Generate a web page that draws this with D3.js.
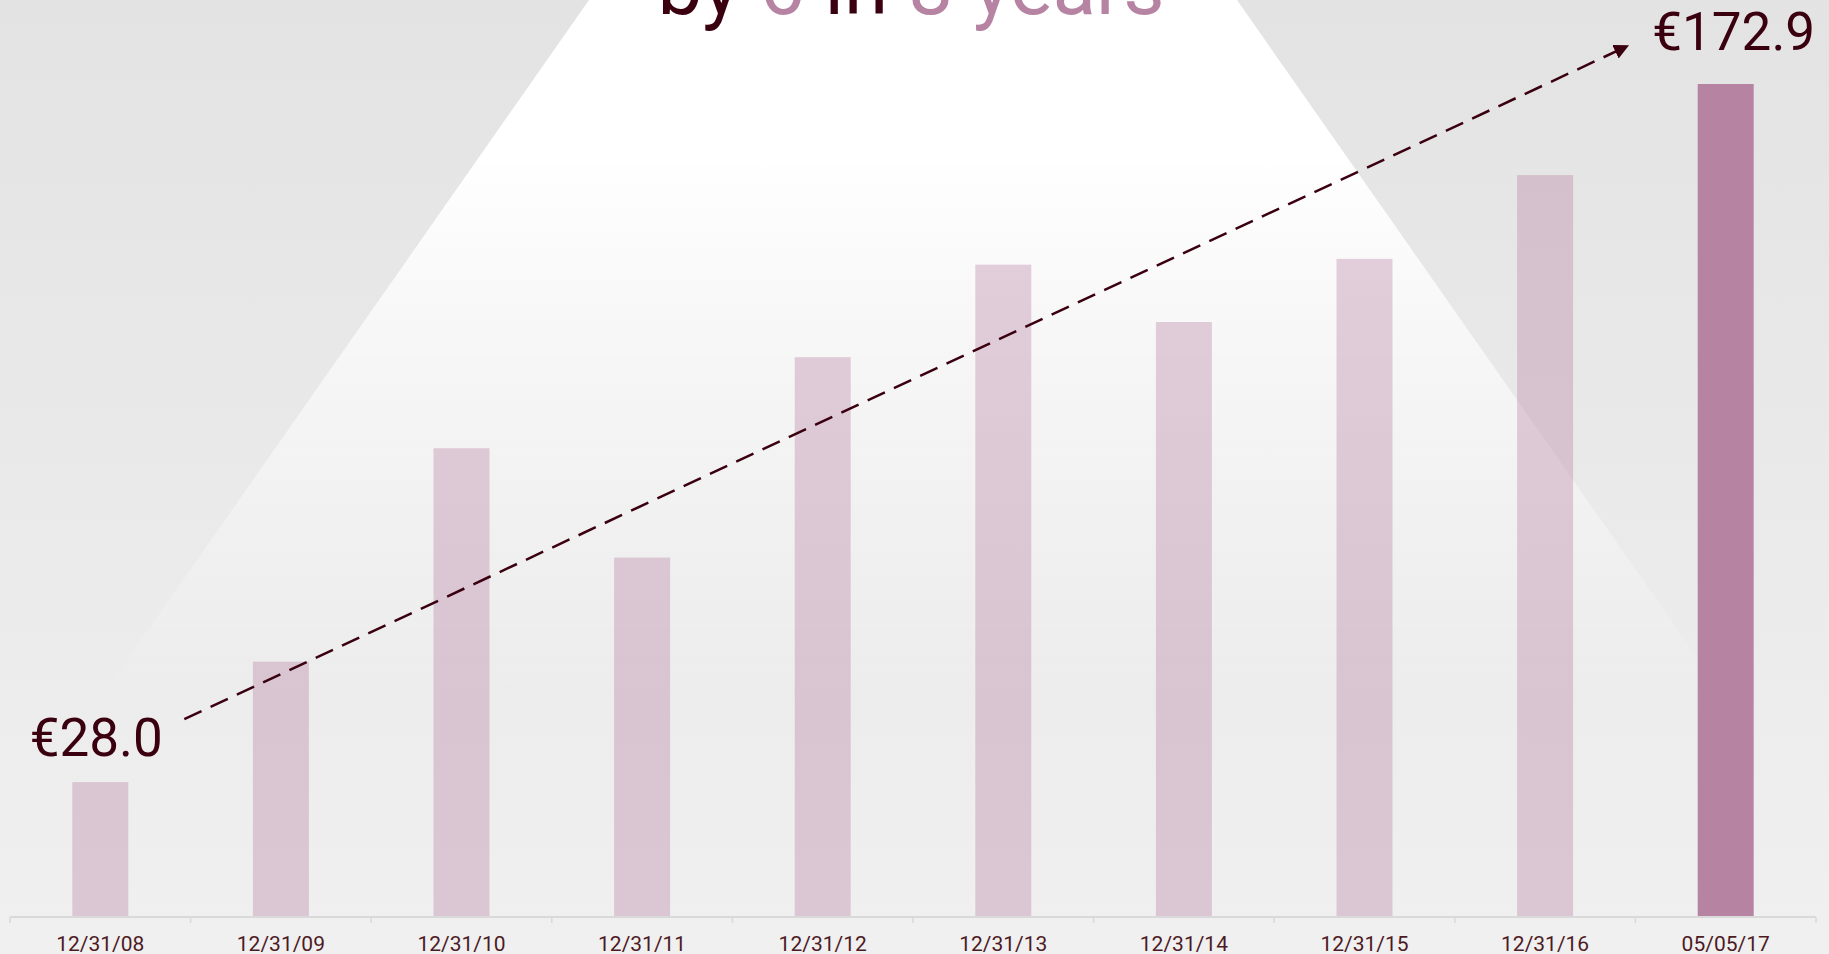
<!DOCTYPE html>
<html>
<head>
<meta charset="utf-8">
<script src="https://cdn.jsdelivr.net/npm/d3@7"></script>
<style>
html,body{margin:0;padding:0;overflow:hidden;background:#e9e9e9;}
svg{display:block;}
</style>
</head>
<body>
<svg id="chart" width="1829" height="954"></svg>
<script>
const categories = ["12/31/08","12/31/09","12/31/10","12/31/11","12/31/12","12/31/13","12/31/14","12/31/15","12/31/16","05/05/17"];
const values = [28.0, 53.0, 97.3, 74.6, 116.2, 135.4, 123.5, 136.6, 154.0, 172.9];
const startLabel = "€28.0";
const endLabel = "€172.9";
const titleParts = [
  {text:"by ", accent:false},
  {text:"6", accent:true},
  {text:" in ", accent:false},
  {text:"8 years", accent:true}
];

const W = 1829, H = 954;
const dark = "#3a0010", pink = "#b783a3", axisText = "#4d1a24";
const svg = d3.select("#chart");
const defs = svg.append("defs");

const bg = defs.append("linearGradient").attr("id","bg")
  .attr("gradientUnits","userSpaceOnUse").attr("x1",0).attr("y1",0).attr("x2",0).attr("y2",H);
bg.append("stop").attr("offset",0).attr("stop-color","#e3e3e3");
bg.append("stop").attr("offset",1).attr("stop-color","#f0f0f0");

const cone = defs.append("linearGradient").attr("id","cone")
  .attr("gradientUnits","userSpaceOnUse").attr("x1",0).attr("y1",0).attr("x2",0).attr("y2",700);
cone.append("stop").attr("offset",0).attr("stop-color","#fff").attr("stop-opacity",1);
cone.append("stop").attr("offset",0.22).attr("stop-color","#fff").attr("stop-opacity",1);
cone.append("stop").attr("offset",1).attr("stop-color","#fff").attr("stop-opacity",0);

svg.append("rect").attr("width",W).attr("height",H).attr("fill","url(#bg)");

const x = d3.scaleBand().domain(categories).range([10, 1816]).paddingInner(0.69).paddingOuter(0.345);
const y = d3.scaleLinear().domain([0, 172.9]).range([917, 84]);

// spotlight cone
const cx = (x.range()[0] + x.range()[1]) / 2;
const topHalf = 324, slope = 0.70, coneBottom = 917;
svg.append("path")
  .attr("d", `M${cx-topHalf},0 L${cx+topHalf},0 L${cx+topHalf+slope*coneBottom},${coneBottom} L${cx-topHalf-slope*coneBottom},${coneBottom} Z`)
  .attr("fill","url(#cone)");

// title (mostly above the canvas, as in the reference)
const title = svg.append("text")
  .attr("x", cx - 2).attr("y", 14)
  .attr("text-anchor","middle")
  .style("font-family","Roboto, sans-serif")
  .style("font-weight","400")
  .style("font-size","80px");
title.selectAll("tspan").data(titleParts).join("tspan")
  .attr("fill", d => d.accent ? pink : dark)
  .text(d => d.text);

// bars
svg.append("g").selectAll("rect").data(values).join("rect")
  .attr("x", (d,i) => x(categories[i]))
  .attr("width", x.bandwidth())
  .attr("y", d => y(d))
  .attr("height", d => y(0) - y(d))
  .attr("fill", pink)
  .attr("fill-opacity", (d,i) => i === values.length - 1 ? 1 : 0.37);

// axis
const axisG = svg.append("g").attr("transform", `translate(0,${y(0)})`);
axisG.append("line").attr("x1", x.range()[0]).attr("x2", x.range()[1])
  .attr("y1",0).attr("y2",0).attr("stroke","#d9d9d9").attr("stroke-width",2);
const bounds = d3.range(categories.length + 1).map(i => x.range()[0] + i * x.step());
axisG.selectAll("line.tk").data(bounds).join("line").attr("class","tk")
  .attr("x1", d => d).attr("x2", d => d).attr("y1",0).attr("y2",6)
  .attr("stroke","#d9d9d9").attr("stroke-width",1.5);
const ax = d3.axisBottom(x).tickSize(0).tickPadding(0);
const labG = svg.append("g").attr("transform", `translate(0,${y(0)})`).call(ax);
labG.select(".domain").remove();
labG.selectAll("text")
  .attr("y", 34).attr("dy", 0)
  .attr("fill", axisText)
  .style("font-family","Roboto, sans-serif")
  .style("font-size","21px");

// value labels
const first = 0, last = values.length - 1;
svg.append("text")
  .attr("x", x(categories[first]) + x.bandwidth()/2 - 4)
  .attr("y", y(values[first]) - 26)
  .attr("text-anchor","middle").attr("fill", dark)
  .style("font-family","Roboto, sans-serif").style("font-size","53px")
  .text(startLabel);
svg.append("text")
  .attr("x", x(categories[last]) + x.bandwidth()/2 + 8)
  .attr("y", y(values[last]) - 34)
  .attr("text-anchor","middle").attr("fill", dark)
  .style("font-family","Roboto, sans-serif").style("font-size","53px")
  .text(endLabel);

// dashed trend arrow
defs.append("marker").attr("id","arrow")
  .attr("viewBox","0 0 10 10").attr("refX",9).attr("refY",5)
  .attr("markerWidth",6).attr("markerHeight",6).attr("markerUnits","strokeWidth")
  .attr("orient","auto")
  .append("path").attr("d","M0,0 L10,5 L0,10 Z").attr("fill", dark);

const x0 = x(categories[first]) + x.bandwidth()/2 + 84;
const y0 = y(values[first]) - 63;
const x1 = x(categories[last]) + x.bandwidth()/2 - 98;
const y1 = y(values[last]) - 38;
svg.append("line")
  .attr("x1", x0).attr("y1", y0).attr("x2", x1).attr("y2", y1)
  .attr("stroke", dark).attr("stroke-width", 2.5)
  .attr("stroke-dasharray","19,10")
  .attr("marker-end","url(#arrow)");
</script>
</body>
</html>
